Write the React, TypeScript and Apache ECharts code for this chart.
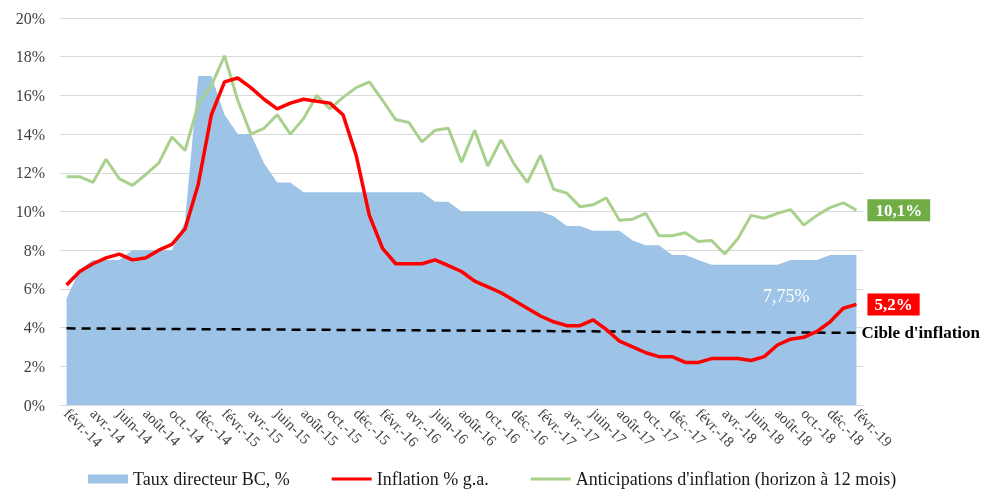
import React, { useEffect, useRef } from 'react';
import * as echarts from 'echarts';

const FONT = '"Liberation Serif", "Times New Roman", serif';

const categories = [
  'févr.-14', 'mars-14', 'avr.-14', 'mai-14', 'juin-14', 'juil.-14', 'août-14', 'sept.-14', 'oct.-14', 'nov.-14', 'déc.-14',
  'janv.-15', 'févr.-15', 'mars-15', 'avr.-15', 'mai-15', 'juin-15', 'juil.-15', 'août-15', 'sept.-15', 'oct.-15', 'nov.-15', 'déc.-15',
  'janv.-16', 'févr.-16', 'mars-16', 'avr.-16', 'mai-16', 'juin-16', 'juil.-16', 'août-16', 'sept.-16', 'oct.-16', 'nov.-16', 'déc.-16',
  'janv.-17', 'févr.-17', 'mars-17', 'avr.-17', 'mai-17', 'juin-17', 'juil.-17', 'août-17', 'sept.-17', 'oct.-17', 'nov.-17', 'déc.-17',
  'janv.-18', 'févr.-18', 'mars-18', 'avr.-18', 'mai-18', 'juin-18', 'juil.-18', 'août-18', 'sept.-18', 'oct.-18', 'nov.-18', 'déc.-18',
  'janv.-19', 'févr.-19',
];

const tauxDirecteur = [
  5.5, 7.0, 7.5, 7.5, 7.5, 8.0, 8.0, 8.0, 8.0, 9.5,
  17, 17, 15, 14, 14, 12.5, 11.5, 11.5, 11, 11,
  11, 11, 11, 11, 11, 11, 11, 11, 10.5, 10.5,
  10, 10, 10, 10, 10, 10, 10, 9.75, 9.25, 9.25,
  9, 9, 9, 8.5, 8.25, 8.25, 7.75, 7.75, 7.5, 7.25,
  7.25, 7.25, 7.25, 7.25, 7.25, 7.5, 7.5, 7.5, 7.75, 7.75,
  7.75,
];

const inflation = [
  6.2, 6.9, 7.3, 7.6, 7.8, 7.5, 7.6, 8.0, 8.3, 9.1,
  11.4, 15.0, 16.7, 16.9, 16.4, 15.8, 15.3, 15.6, 15.8, 15.7,
  15.6, 15.0, 12.9, 9.8, 8.1, 7.3, 7.3, 7.3, 7.5, 7.2,
  6.9, 6.4, 6.1, 5.8, 5.4, 5.0, 4.6, 4.3, 4.1, 4.1,
  4.4, 3.9, 3.3, 3.0, 2.7, 2.5, 2.5, 2.2, 2.2, 2.4,
  2.4, 2.4, 2.3, 2.5, 3.1, 3.4, 3.5, 3.8, 4.3, 5.0,
  5.2,
];

const anticipations = [
  11.8, 11.8, 11.5, 12.7, 11.7, 11.35, 11.9, 12.5, 13.85, 13.15,
  15.55, 16.5, 18.05, 15.75, 14.0, 14.3, 15.0, 14.0, 14.8, 16.0,
  15.3, 15.9, 16.4, 16.7, 15.75, 14.75, 14.6, 13.6, 14.2, 14.3,
  12.55, 14.2, 12.35, 13.7, 12.45, 11.5, 12.9, 11.15, 10.95, 10.25,
  10.35, 10.7, 9.55, 9.6, 9.9, 8.75, 8.75, 8.9, 8.45, 8.5,
  7.8, 8.6, 9.8, 9.65, 9.9, 10.1, 9.3, 9.8, 10.2, 10.45,
  10.07,
];

// target line: [category index, value]
const cibleInflation: [number, number][] = [[0, 3.96], [60, 3.73]];

const seriesNames = [
  'Taux directeur BC, %',
  'Inflation % g.a.',
  "Anticipations d'inflation (horizon à 12 mois)",
  "Cible d'inflation",
];

const fmt = (v: number, d: number) => v.toFixed(d).replace('.', ',') + '%';

export default function App() {
  const ref = useRef<HTMLDivElement>(null);
  useEffect(() => {
    const chart = echarts.init(ref.current!, null, { renderer: 'svg' });
    const lineIcon = 'path://M0,0H40V3H0Z';
    chart.setOption({
      animation: false,
      textStyle: { fontFamily: FONT },
      grid: { left: 60, right: 120, top: 18, bottom: 84, containLabel: false },
      xAxis: {
        type: 'category',
        data: categories,
        boundaryGap: true,
        axisLine: { lineStyle: { color: '#d9d9d9', width: 1 } },
        axisTick: { interval: 1, length: 5, lineStyle: { color: '#bfbfbf' } },
        axisLabel: {
          interval: 1,
          rotate: -45,
          margin: 6,
          fontFamily: FONT,
          fontSize: 15,
          color: '#404040',
        },
      },
      yAxis: {
        type: 'value',
        min: 0,
        max: 20,
        interval: 2,
        axisLine: { show: false },
        axisTick: { show: false },
        axisLabel: {
          formatter: '{value}%',
          fontFamily: FONT,
          fontSize: 16,
          color: '#404040',
          margin: 15,
        },
        splitLine: { lineStyle: { color: '#d9d9d9', width: 1 } },
      },
      legend: {
        left: 88,
        top: 470,
        padding: 0,
        itemWidth: 40,
        itemHeight: 9,
        itemGap: 42,
        textStyle: { fontFamily: FONT, fontSize: 18, color: '#1a1a1a' },
        data: [
          { name: seriesNames[0], icon: 'rect' },
          { name: seriesNames[1], icon: lineIcon },
          { name: seriesNames[2], icon: lineIcon },
        ],
      },
      series: [
        {
          name: seriesNames[0],
          type: 'line',
          data: tauxDirecteur,
          color: '#9DC3E6',
          symbol: 'none',
          lineStyle: { width: 0, color: '#9DC3E6' },
          areaStyle: { color: '#9DC3E6', opacity: 1 },
          z: 1,
        },
        {
          name: seriesNames[3],
          type: 'line',
          data: cibleInflation,
          color: '#000',
          symbol: 'none',
          lineStyle: { width: 2.5, color: '#000', type: [9, 6] },
          endLabel: {
            show: true,
            formatter: '{a}',
            fontFamily: FONT,
            fontWeight: 'bold',
            fontSize: 17,
            color: '#000',
            distance: 5,
          },
          z: 2,
        },
        {
          name: seriesNames[1],
          type: 'line',
          data: inflation,
          color: '#FF0000',
          symbol: 'none',
          lineStyle: { width: 3.5, color: '#FF0000' },
          endLabel: {
            show: true,
            formatter: (p: any) => fmt(Number(p.value), 1),
            fontFamily: FONT,
            fontWeight: 'bold',
            fontSize: 17,
            color: '#fff',
            backgroundColor: '#FF0000',
            padding: [3, 7, 2, 7],
            distance: 11,
          },
          z: 4,
        },
        {
          name: seriesNames[2],
          type: 'line',
          data: anticipations,
          color: '#A9D18E',
          symbol: 'none',
          lineStyle: { width: 3, color: '#A9D18E' },
          endLabel: {
            show: true,
            formatter: (p: any) => fmt(Number(p.value), 1),
            fontFamily: FONT,
            fontWeight: 'bold',
            fontSize: 17,
            color: '#fff',
            backgroundColor: '#70AD47',
            padding: [3, 8, 2, 8],
            distance: 11,
          },
          z: 3,
        },
      ],
      graphic: [
        {
          type: 'text',
          left: 763,
          top: 287,
          z: 100,
          style: {
            text: fmt(tauxDirecteur[tauxDirecteur.length - 1], 2),
            fill: '#ffffff',
            fontSize: 18,
            fontFamily: FONT,
          },
        },
      ],
    });
    return () => chart.dispose();
  }, []);
  return (
    <div
      ref={ref}
      style={{ position: 'fixed', left: 0, top: 0, width: 983, height: 489 }}
    />
  );
}
